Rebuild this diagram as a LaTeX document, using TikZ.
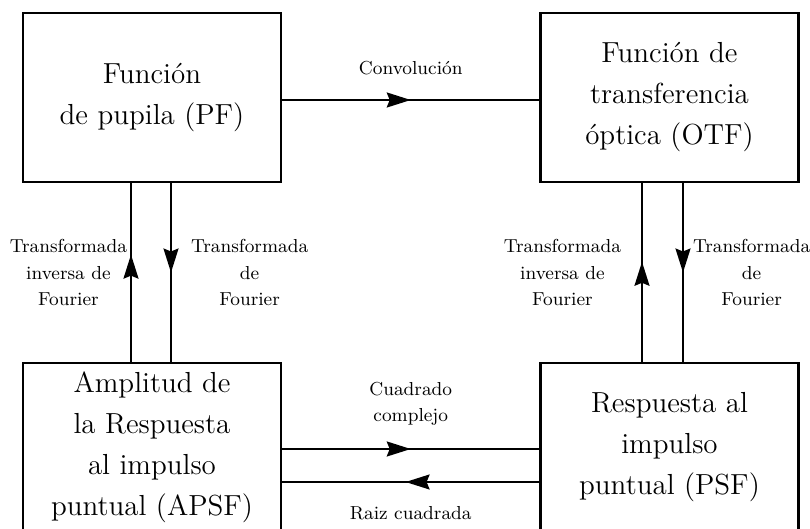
\documentclass[tikz,border=0pt]{standalone}
\usetikzlibrary{arrows.meta,decorations.markings}
\tikzset{
  caja/.style={draw,line width=1.25pt,minimum width=129pt,minimum height=84.5pt,align=center,inner sep=0pt,font=\fontsize{14.5}{20.5}\selectfont},
  etiqueta/.style={align=center,inner sep=0pt,font=\fontsize{9.4}{13.25}\selectfont},
  flecha/.style={line width=1pt,decoration={markings,mark=at position #1 with {\arrow{Stealth[length=12pt,width=7.5pt,inset=1.5pt]}}},postaction={decorate}},
  flecha/.default=0.5
}

\begin{document}
\begin{tikzpicture}[x=0.5pt,y=-0.5pt]
      \useasboundingbox (0,0) rectangle (810,529);
      \clip (0,0) rectangle (810,529);
      \node[caja] (pf) at (152,97.5) {Función\\de pupila (PF)};
      \node[caja] (otf) at (669.5,97.5) {Función de\\transferencia\\óptica (OTF)};
      \node[caja] (apsf) at (152,447.5) {Amplitud de\\la Respuesta\\al impulso\\puntual (APSF)};
      \node[caja] (psf) at (669.5,447.5) {Respuesta al\\impulso\\puntual (PSF)};
      \draw[flecha] ([yshift=-1.25pt]pf.east) -- ([yshift=-1.25pt]otf.west) node[etiqueta,midway,yshift=16pt] {Convolución};
      \draw[flecha=0.6] ([xshift=-10.5pt]apsf.north) -- ([xshift=-10.5pt]pf.south) node[etiqueta,midway,left=1.5pt] {Transformada\\inversa de\\Fourier};
      \draw[flecha] ([xshift=9.5pt]pf.south) -- ([xshift=9.5pt]apsf.north) node[etiqueta,midway,right=9.5pt] {Transformada\\de\\Fourier};
      \draw[flecha=0.56] ([xshift=-13.75pt]psf.north) -- ([xshift=-13.75pt]otf.south) node[etiqueta,midway,left=10pt] {Transformada\\inversa de\\Fourier};
      \draw[flecha] ([xshift=6.75pt]otf.south) -- ([xshift=6.75pt]psf.north) node[etiqueta,midway,right=4.5pt] {Transformada\\de\\Fourier};
      \draw[flecha] ([yshift=-0.75pt]apsf.east) -- ([yshift=-0.75pt]psf.west) node[etiqueta,midway,yshift=22.5pt] {Cuadrado\\complejo};
      \draw[flecha=0.52] ([yshift=-17.25pt]psf.west) -- ([yshift=-17.25pt]apsf.east) node[etiqueta,midway,yshift=-15.5pt] {Raiz cuadrada};
\end{tikzpicture}
\end{document}
